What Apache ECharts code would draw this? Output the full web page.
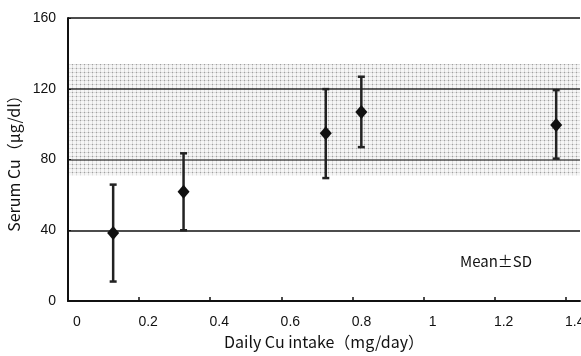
<!DOCTYPE html>
<html>
<head>
<meta charset="utf-8">
<script src="https://cdn.jsdelivr.net/npm/echarts@6/dist/echarts.min.js"></script>
<style>
  html, body { margin: 0; padding: 0; background: #fff; }
  #chart { width: 581px; height: 356px; }
</style>
</head>
<body>
<div id="chart"></div>
<script>
// Daily Cu intake vs serum Cu (mean ± SD)
const intake = [0.127, 0.325, 0.725, 0.825, 1.373]
const meanCu = [38.5, 61.8, 94.8, 106.8, 99.5]
const sdLow = [11, 40, 69.5, 87, 80.5]
const sdHigh = [65.8, 83.5, 119.8, 126.8, 119.2]
// reference (normal) range of serum Cu
const normalRange = [71, 134]
const yTicks = [0, 40, 80, 120, 160]

// dotted screen pattern for the normal range band
const pat = document.createElement('canvas')
pat.width = 4
pat.height = 4
const pctx = pat.getContext('2d')
pctx.fillStyle = '#f6f6f6'
pctx.fillRect(0, 0, 4, 4)
pctx.fillStyle = '#dedede'
pctx.fillRect(0, 0, 1, 4)
pctx.fillRect(0, 0, 4, 1)
pctx.fillStyle = '#a0a0a0'
pctx.fillRect(0, 0, 1, 1)

const chart = echarts.init(document.getElementById('chart'), null, { renderer: 'canvas' })
const font = '"Noto Sans CJK JP", "Liberation Sans", sans-serif'
const tickFont = '"Liberation Sans", Arial, sans-serif'

chart.setOption({
  animation: false,
  grid: { left: 68, right: 1, top: 18, bottom: 55, outerBoundsMode: 'none', containLabel: false },
  xAxis: {
    type: 'value',
    min: 0,
    max: 1.44,
    interval: 0.2,
    name: 'Daily Cu intake（mg/day）',
    nameLocation: 'middle',
    nameGap: 33,
    nameTextStyle: { color: '#111', fontSize: 16, fontFamily: font },
    axisLine: { lineStyle: { color: '#111', width: 2 } },
    axisTick: { inside: true, length: 4, lineStyle: { color: '#111', width: 1.5 } },
    axisLabel: { color: '#111', fontSize: 14, fontFamily: tickFont, margin: 14, padding: [0, 0, 0, 18], showMaxLabel: false },
    splitLine: { show: false }
  },
  yAxis: {
    type: 'value',
    min: yTicks[0],
    max: yTicks[yTicks.length - 1],
    interval: 40,
    name: 'Serum Cu（μg/dl）',
    nameLocation: 'middle',
    nameGap: 43,
    nameTextStyle: { color: '#111', fontSize: 16, fontFamily: font },
    axisLine: { lineStyle: { color: '#111', width: 2 } },
    axisTick: { inside: true, length: 3, lineStyle: { color: '#111' } },
    axisLabel: { color: '#111', fontSize: 14, fontFamily: tickFont, margin: 12 },
    splitLine: { show: true, lineStyle: { color: ['#111', '#111', '#555', '#333', '#111'], width: 1.5 } }
  },
  series: [
    {
      type: 'line',
      data: [],
      z: -1,
      markArea: {
        silent: true,
        z: -1,
        itemStyle: { color: { image: pat, repeat: 'repeat' } },
        data: [[{ yAxis: normalRange[0] }, { yAxis: normalRange[1] }]]
      }
    },
    {
      type: 'custom',
      z: 5,
      renderItem: (params, api) => {
        const x = api.value(0)
        const lo = api.coord([x, api.value(1)])
        const hi = api.coord([x, api.value(2)])
        const cap = 3.5
        const style = { stroke: '#222', lineWidth: 2.5 }
        return {
          type: 'group',
          children: [
            { type: 'line', shape: { x1: lo[0], y1: lo[1], x2: hi[0], y2: hi[1] }, style },
            { type: 'line', shape: { x1: lo[0] - cap, y1: lo[1], x2: lo[0] + cap, y2: lo[1] }, style },
            { type: 'line', shape: { x1: hi[0] - cap, y1: hi[1], x2: hi[0] + cap, y2: hi[1] }, style }
          ]
        }
      },
      data: intake.map((x, i) => [x, sdLow[i], sdHigh[i]])
    },
    {
      type: 'scatter',
      z: 6,
      symbol: 'diamond',
      symbolSize: [12, 14],
      itemStyle: { color: '#111', opacity: 1 },
      data: intake.map((x, i) => [x, meanCu[i]])
    }
  ],
  graphic: [
    {
      type: 'text',
      left: 460,
      top: 254,
      style: { text: 'Mean±SD', fill: '#111', font: '15px ' + font }
    }
  ]
})
</script>
</body>
</html>
